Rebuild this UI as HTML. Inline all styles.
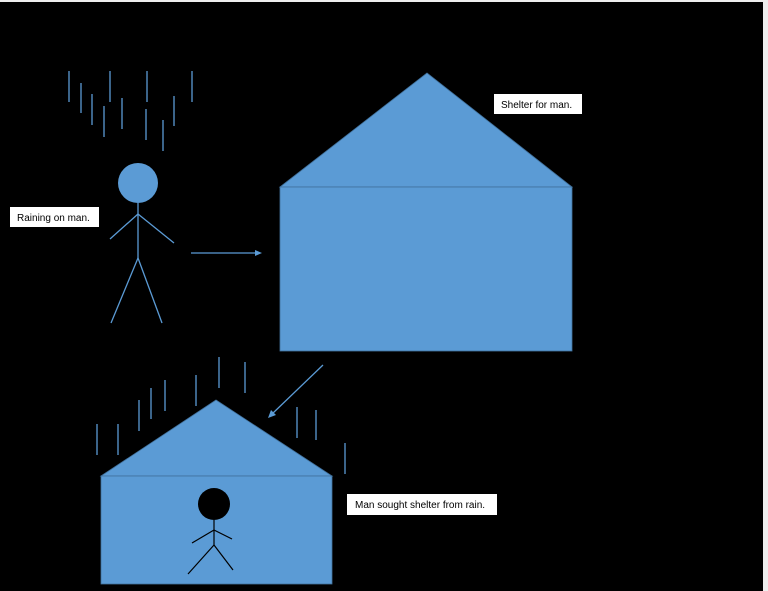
<!DOCTYPE html>
<html><head><meta charset="utf-8"><style>
html,body{margin:0;padding:0;background:#eee;}
svg{display:block;}
text{font-family:"Liberation Sans",sans-serif;font-size:10px;fill:#000;}
</style></head><body>
<svg width="768" height="591" viewBox="0 0 768 591" xmlns="http://www.w3.org/2000/svg">
<rect x="0" y="0" width="768" height="591" fill="#eeeeee"/>
<rect x="0" y="2" width="763" height="589" fill="#000"/>
<g stroke="#5b9bd5" stroke-width="1.3">
<line x1="69" y1="71" x2="69" y2="102"/><line x1="81" y1="83" x2="81" y2="113"/>
<line x1="92" y1="94" x2="92" y2="125"/><line x1="104" y1="106" x2="104" y2="137"/>
<line x1="110" y1="71" x2="110" y2="102"/><line x1="122" y1="98" x2="122" y2="129"/>
<line x1="147" y1="71" x2="147" y2="102"/><line x1="146" y1="109" x2="146" y2="140"/>
<line x1="163" y1="120" x2="163" y2="151"/><line x1="174" y1="96" x2="174" y2="126"/>
<line x1="192" y1="71" x2="192" y2="102"/>
<line x1="138" y1="203" x2="138" y2="258"/>
<line x1="138" y1="214" x2="110" y2="239"/><line x1="138" y1="214" x2="174" y2="243"/>
<line x1="138" y1="258" x2="111" y2="323"/><line x1="138" y1="258" x2="162" y2="323"/>
<line x1="191" y1="253" x2="257" y2="253"/>
<line x1="323" y1="365" x2="272" y2="414"/>
<line x1="97" y1="424" x2="97" y2="455"/><line x1="118" y1="424" x2="118" y2="455"/>
<line x1="139" y1="400" x2="139" y2="431"/><line x1="151" y1="388" x2="151" y2="419"/>
<line x1="165" y1="380" x2="165" y2="411"/><line x1="196" y1="375" x2="196" y2="406"/>
<line x1="219" y1="357" x2="219" y2="388"/><line x1="245" y1="362" x2="245" y2="393"/>
<line x1="297" y1="407" x2="297" y2="438"/><line x1="316" y1="410" x2="316" y2="440"/>
<line x1="345" y1="443" x2="345" y2="474"/>
</g>
<polygon points="262,253 255,250 255,256" fill="#5b9bd5"/>
<polygon points="268,418 271,410 276,415" fill="#5b9bd5"/>
<circle cx="138" cy="183" r="20" fill="#5b9bd5"/>
<polygon points="280,187 427,73 572,187" fill="#5b9bd5" stroke="#41719c" stroke-width="0.8"/>
<rect x="280" y="187" width="292" height="164" fill="#5b9bd5" stroke="#41719c" stroke-width="0.8"/>
<polygon points="101,476 216,400 332,476" fill="#5b9bd5" stroke="#41719c" stroke-width="0.8"/>
<rect x="101" y="476" width="231" height="108" fill="#5b9bd5" stroke="#41719c" stroke-width="0.8"/>
<circle cx="214" cy="504" r="16" fill="#000"/>
<g stroke="#000" stroke-width="1.2">
<line x1="214" y1="520" x2="214" y2="545"/>
<line x1="214" y1="530" x2="192" y2="543"/><line x1="214" y1="530" x2="232" y2="539"/>
<line x1="214" y1="545" x2="188" y2="574"/><line x1="214" y1="545" x2="233" y2="570"/>
</g>
<rect x="10" y="207" width="89" height="20" fill="#fff"/>
<text x="17" y="221">Raining on man.</text>
<rect x="494" y="94" width="88" height="20" fill="#fff"/>
<text x="501" y="108">Shelter for man.</text>
<rect x="347" y="494" width="150" height="21" fill="#fff"/>
<text x="355" y="508">Man sought shelter from rain.</text>
</svg>
</body></html>
